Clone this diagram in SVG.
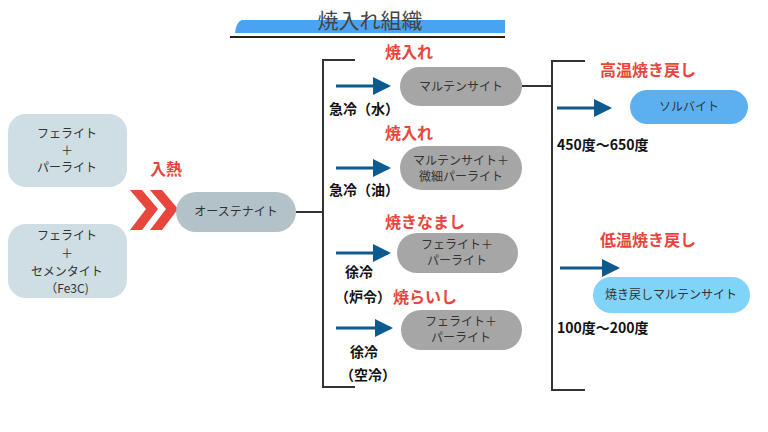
<svg xmlns="http://www.w3.org/2000/svg" width="768" height="432" viewBox="0 0 768 432">
<style>
text{font-family:"Noto Sans CJK JP","Noto Sans",sans-serif}
.bt{font-size:12px;fill:#333;text-anchor:middle}
.red{font-size:16px;font-weight:bold;fill:#e8453c}
.lb{font-size:14px;font-weight:bold;fill:#111}
.ln{stroke:#333;stroke-width:2;fill:none}
.ar{stroke:#0d5a8f;stroke-width:3;fill:none;marker-end:url(#ah)}
.gray{fill:#a6a6a6}
</style>
<defs>
<marker id="ah" markerWidth="6" markerHeight="6" refX="5" refY="3" orient="auto" markerUnits="strokeWidth"><path d="M0,0 L6,3 L0,6 Z" fill="#0d5a8f"/></marker>
</defs>
<rect width="768" height="432" fill="#fff"/>
<g id="title">
<path d="M242,20 H505 V33 H235 Q236,22 242,20 Z" fill="#4aa3f0"/>
<line x1="230" y1="37" x2="505" y2="37" stroke="#222" stroke-width="2"/>
<text x="370" y="28" font-size="21" fill="#444" text-anchor="middle">焼入れ組織</text>
</g>
<g id="connectors">
<path class="ln" d="M296,212 H323 M355,60 H323 V387 H355"/>
<path class="ln" d="M522,86 H552 M585,61 H552 V390 H585"/>
<line class="ar" x1="336" y1="86" x2="388" y2="86"/>
<line class="ar" x1="336" y1="168" x2="388" y2="168"/>
<line class="ar" x1="336" y1="253" x2="388" y2="253"/>
<line class="ar" x1="336" y1="328" x2="390" y2="328"/>
<line class="ar" x1="557" y1="108" x2="609" y2="108"/>
<line class="ar" x1="560" y1="268" x2="617" y2="268"/>
<path d="M130,190 H142 L158,209 L142,230 H130 L146,209 Z M150,190 H162 L178,209 L162,230 H150 L166,209 Z" fill="#e8453c"/>
</g>
<g id="n1"><rect x="8" y="114" width="119" height="73" rx="18" fill="#cfdde4"/>
<text class="bt" x="67" y="138">フェライト</text><text class="bt" x="67" y="155">＋</text><text class="bt" x="67" y="172">パーライト</text></g>
<g id="n2"><rect x="8" y="224" width="119" height="74" rx="18" fill="#cfdde4"/>
<text class="bt" x="67" y="240">フェライト</text><text class="bt" x="67" y="258">＋</text><text class="bt" x="67" y="276">セメンタイト</text><text class="bt" x="67" y="293">（Fe3C)</text></g>
<text class="red" x="150" y="175">入熱</text>
<g id="aus"><rect x="176" y="192" width="120" height="40" rx="20" fill="#b3c1c8"/><text class="bt" x="236" y="216">オーステナイト</text></g>
<g id="q1"><text class="red" x="385" y="58">焼入れ</text><rect class="gray" x="400" y="67" width="122" height="39" rx="19.5"/><text class="bt" x="461" y="91">マルテンサイト</text><text class="lb" x="329" y="114">急冷（水）</text></g>
<g id="q2"><text class="red" x="385" y="139">焼入れ</text><rect class="gray" x="400" y="146" width="122" height="44" rx="22"/><text class="bt" x="461" y="165">マルテンサイト＋</text><text class="bt" x="461" y="181">微細パーライト</text><text class="lb" x="329" y="195">急冷（油）</text></g>
<g id="a1"><text class="red" x="385" y="228">焼きなまし</text><rect class="gray" x="397" y="233" width="121" height="40" rx="20"/><text class="bt" x="457" y="249">フェライト＋</text><text class="bt" x="457" y="265">パーライト</text><text class="lb" x="345" y="277">徐冷</text><text class="lb" x="335" y="302">（炉令）</text></g>
<g id="a2"><text class="red" x="393" y="303">焼らいし</text><rect class="gray" x="401" y="310" width="121" height="40" rx="20"/><text class="bt" x="461" y="326">フェライト＋</text><text class="bt" x="461" y="342">パーライト</text><text class="lb" x="350" y="357">徐冷</text><text class="lb" x="340" y="380">（空冷）</text></g>
<g id="t1"><text class="red" x="600" y="76">高温焼き戻し</text><rect x="630" y="90" width="118" height="34" rx="17" fill="#5cb0f0"/><text class="bt" x="689" y="111">ソルバイト</text><text class="lb" x="557" y="150">450度～650度</text></g>
<g id="t2"><text class="red" x="600" y="246">低温焼き戻し</text><rect x="593" y="277" width="157" height="36" rx="18" fill="#80d4f8"/><text class="bt" x="671" y="299">焼き戻しマルテンサイト</text><text class="lb" x="557" y="333">100度～200度</text></g>
</svg>
